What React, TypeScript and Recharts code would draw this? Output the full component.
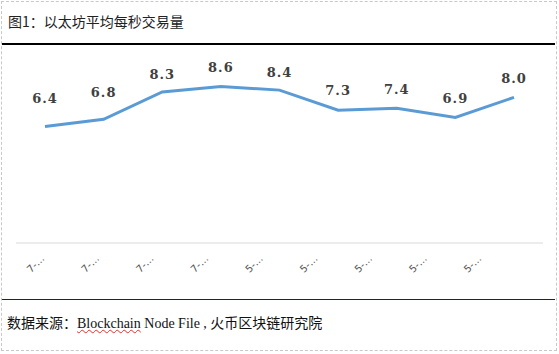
import { LineChart, Line, XAxis, YAxis, LabelList } from "recharts";

const categories = ["7-…", "7-…", "7-…", "7-…", "5-…", "5-…", "5-…", "5-…", "5-…"];
const tps = [6.4, 6.8, 8.3, 8.6, 8.4, 7.3, 7.4, 6.9, 8.0];

const chartData = categories.map((label, i) => ({ key: i, label, tps: tps[i] }));

// how far each value label sits above its point (px)
const labelLift = [29, 27, 18, 19, 18, 20, 19, 19, 19];

const ValueLabel = (props: any) => {
  const { x, y, value, index } = props;
  const lift = labelLift[index] ?? 19;
  return (
    <text
      x={x}
      y={y - lift + 5}
      textAnchor="middle"
      fontFamily="'DejaVu Serif', serif"
      fontWeight="bold"
      fontSize={13}
      letterSpacing={1}
      fill="#404040"
    >
      {Number(value).toFixed(1)}
    </text>
  );
};

const SlantTick = (props: any) => {
  const { x, y, payload } = props;
  return (
    <g transform={`translate(${x},${y})`}>
      <text
        textAnchor="end"
        transform="rotate(-45)"
        fontFamily="'DejaVu Sans', sans-serif"
        fontSize={10}
        fill="#555"
        dy={3}
      >
        {payload.value}
      </text>
    </g>
  );
};

export default function App() {
  return (
    <div
      style={{
        position: "absolute",
        left: 0,
        top: 0,
        width: 559,
        height: 354,
        background: "#fff",
        overflow: "hidden",
      }}
    >
      <div
        style={{
          position: "absolute",
          left: 1,
          top: 1,
          width: 554,
          height: 348,
          border: "1px dashed #c8c8c8",
        }}
      />
      <div
        style={{
          position: "absolute",
          left: 8,
          top: 11,
          fontFamily: "'Noto Sans CJK SC', sans-serif",
          fontSize: 14,
          color: "#222",
          whiteSpace: "nowrap",
        }}
      >
        图1：以太坊平均每秒交易量
      </div>
      <div style={{ position: "absolute", left: 2, top: 43, width: 553, height: 2, background: "#000" }} />

      <div style={{ position: "absolute", left: 0, top: 0 }}>
        <LineChart
          width={559}
          height={300}
          data={chartData}
          margin={{ top: 61, right: 16, left: 16, bottom: 17 }}
        >
          <YAxis hide domain={[0, 10]} />
          <XAxis
            xAxisId="main"
            dataKey="key"
            type="category"
            hide
            padding={{ left: 29, right: 29 }}
          />
          <XAxis
            xAxisId="labels"
            dataKey="label"
            type="category"
            allowDuplicatedCategory
            height={40}
            padding={{ left: 27, right: 63 }}
            axisLine={{ stroke: "#d9d9d9", strokeWidth: 1 }}
            tickLine={false}
            tickMargin={8}
            interval={0}
            tick={<SlantTick />}
          />
          <Line
            xAxisId="main"
            type="linear"
            dataKey="tps"
            stroke="#5B9BD5"
            strokeWidth={3}
            dot={false}
            isAnimationActive={false}
          >
            <LabelList dataKey="tps" content={<ValueLabel />} />
          </Line>
        </LineChart>
      </div>

      <div style={{ position: "absolute", left: 2, top: 299, width: 553, height: 1, background: "#1f1b5c" }} />
      <div
        style={{
          position: "absolute",
          left: 7,
          top: 312,
          fontFamily: "'Liberation Serif', 'Noto Sans CJK SC', serif",
          fontSize: 14,
          color: "#111",
          whiteSpace: "nowrap",
        }}
      >
        数据来源：
        <span style={{ textDecoration: "underline wavy #e03030", textDecorationThickness: 1 }}>Blockchain</span>
        {" Node File , 火币区块链研究院"}
      </div>
    </div>
  );
}
